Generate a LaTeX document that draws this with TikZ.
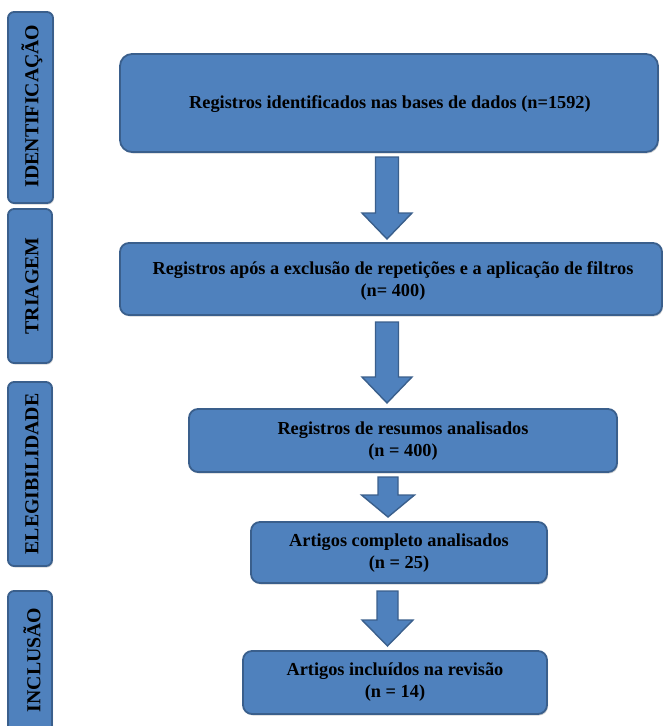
\documentclass[tikz,border=0pt]{standalone}
\usepackage{fontspec}
\setmainfont{Liberation Serif}
\usetikzlibrary{shadows}
\definecolor{boxfill}{HTML}{4F81BD}
\definecolor{boxline}{HTML}{3A5F8C}
\begin{document}
\begin{tikzpicture}[x=1pt,y=-1pt,
  box/.style={draw=boxline, line width=1.8pt, fill=boxfill, rounded corners=9pt,
    drop shadow={shadow xshift=1pt, shadow yshift=-1.5pt, opacity=0.35}},
  sidebox/.style={draw=boxline, line width=1.8pt, fill=boxfill, rounded corners=6pt,
    drop shadow={shadow xshift=1pt, shadow yshift=-1.5pt, opacity=0.35}},
  blockarrow/.style={draw=boxline, line width=1.4pt, fill=boxfill, line join=miter},
  txt/.style={font=\bfseries\fontsize{18.3}{22}\selectfont, align=center, text=black},
  sidetxt/.style={font=\bfseries\fontsize{19.8}{22}\selectfont, rotate=90, text=black}
]
\useasboundingbox (0,0) rectangle (663,726);
\clip (0,0) rectangle (663,726);

% side boxes
\draw[sidebox] (8,12) rectangle (53,203);
\node[sidetxt] (s1) at (32,106) {IDENTIFICAÇÃO};
\draw[sidebox] (8,209) rectangle (52,363);
\node[sidetxt] (s2) at (32,286) {TRIAGEM};
\draw[sidebox] (8,382) rectangle (52,566);
\node[sidetxt] (s3) at (32,474) {ELEGIBILIDADE};
\draw[sidebox] (8,591) rectangle (52,745);
\node[sidetxt] (s4) at (32,660) {INCLUSÃO};

% main boxes
\draw[box, rounded corners=12pt] (120,54) rectangle (658,152);
\node[txt] (t1) at (390,104) {Registros identificados nas bases de dados (n=1592)};
\draw[box] (120,243) rectangle (662,315);
\node[txt] (t2) at (393,281) {Registros após a exclusão de repetições e a aplicação de filtros\\(n= 400)};
\draw[box] (189,409) rectangle (617,472);
\node[txt] (t3) at (403,441) {Registros de resumos analisados\\(n = 400)};
\draw[box] (251,522) rectangle (547,583);
\node[txt] (t4) at (399,553) {Artigos completo analisados\\(n = 25)};
\draw[box] (243,651) rectangle (547,714);
\node[txt] (t5) at (395,682) {Artigos incluídos na revisão\\(n = 14)};

% block arrows
\newcommand{\blockarr}[7]{% cx, top, headstart, tip, halfshaft, halfhead
  \draw[blockarrow] (#1-#5,#2) -- (#1+#5,#2) -- (#1+#5,#3) -- (#1+#6,#3) -- (#1,#4) -- (#1-#6,#3) -- (#1-#5,#3) -- cycle;}
\blockarr{387}{157}{213}{239}{11.5}{25}{}
\blockarr{387}{322}{377}{403}{11.5}{25}{}
\blockarr{388}{477}{495}{517}{10}{26.5}{}
\blockarr{387.5}{591}{620}{646}{10.5}{25.5}{}
\end{tikzpicture}
\end{document}
